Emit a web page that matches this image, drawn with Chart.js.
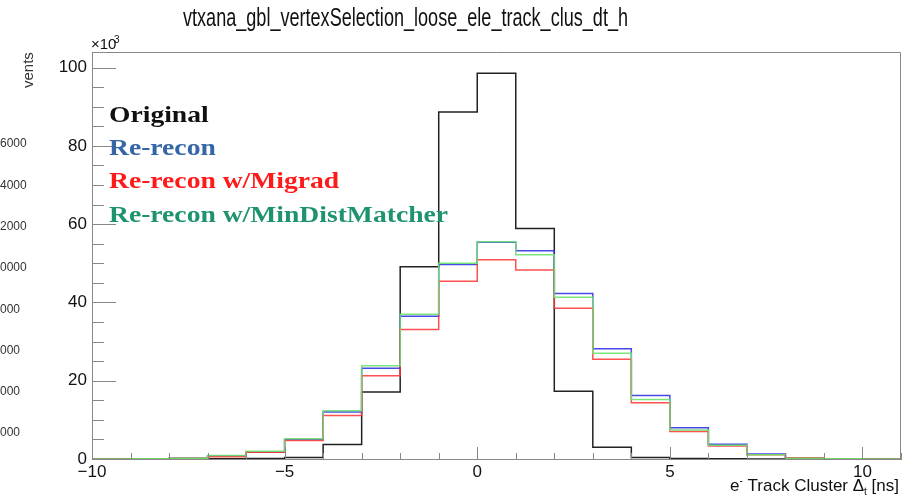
<!DOCTYPE html>
<html lang="en">
<head>
    <meta charset="UTF-8">
    <title>vtxana_gbl_vertexSelection_loose_ele_track_clus_dt_h</title>
    <style>
        body { margin: 0; background: #fff; }
        #histChart { display: block; }
    </style>
</head>
<body>
    <canvas id="histChart" width="909" height="497"></canvas>

    <script src="https://cdn.jsdelivr.net/npm/chart.js"></script>
    <script>
        // bin edges in ns, 1 ns wide bins
        const binEdges = [-10, -9, -8, -7, -6, -5, -4, -3, -2, -1, 0, 1, 2, 3, 4, 5, 6, 7, 8, 9, 10, 11];

        // bin contents, in units of 10^3 events
        const original = [0, 0, 0.05, 0.05, 0.12, 0.4, 3.7, 17.1, 49.1, 88.7, 98.6, 58.9, 17.3, 3.0, 0.4, 0.12, 0.05, 0, 0, 0, 0];
        const rerecon  = [0, 0.05, 0.2, 0.8, 1.8, 5.0, 12.0, 23.2, 36.5, 49.7, 55.4, 53.2, 42.3, 28.2, 16.2, 8.0, 3.8, 1.3, 0.25, 0.05, 0];
        const migrad   = [0, 0.05, 0.2, 0.6, 1.7, 4.7, 11.1, 21.3, 33.1, 45.4, 50.9, 48.3, 38.5, 25.5, 14.4, 7.0, 3.3, 1.1, 0.3, 0.05, 0];
        const minDist  = [0, 0.08, 0.2, 0.9, 2.0, 5.2, 12.3, 23.8, 37.0, 50.0, 55.5, 52.2, 41.3, 27.0, 15.2, 7.4, 3.5, 1.1, 0.2, 0.05, 0];

        const xTickLabels = [-10, -5, 0, 5, 10];
        const yTickLabels = [0, 20, 40, 60, 80, 100];

        const legendNames = ['Original', 'Re-recon', 'Re-recon w/Migrad', 'Re-recon w/MinDistMatcher'];
        const legendColors = ['#111111', '#3466a8', '#ff1a1a', '#1e9370'];

        // each point sits on a bin's low edge; the last edge repeats the last bin
        function toSteps(vals) {
            return binEdges.map((x, i) => ({ x: x, y: vals[Math.min(i, vals.length - 1)] }));
        }

        function histSet(label, vals, color, order) {
            return {
                label: label,
                data: toSteps(vals),
                borderColor: color,
                borderWidth: 1.5,
                stepped: 'before',
                pointRadius: 0,
                fill: false,
                order: order
            };
        }

        // draw text squeezed or stretched to a given width
        function fitText(ctx, text, x, y, width) {
            const w = ctx.measureText(text).width;
            ctx.save();
            ctx.translate(x, y);
            ctx.scale(width / w, 1);
            ctx.fillText(text, 0, 0);
            ctx.restore();
        }

        // ROOT style: ticks pointing into the frame, frame box, title and texts
        const rootDecor = {
            id: 'rootDecor',
            afterDraw(chart) {
                const ctx = chart.ctx;
                const area = chart.chartArea;
                const xs = chart.scales.x;
                const ys = chart.scales.y;
                ctx.save();

                // frame
                ctx.strokeStyle = '#888';
                ctx.lineWidth = 1;
                ctx.beginPath();
                ctx.moveTo(area.left, area.top + 0.5);
                ctx.lineTo(area.right - 0.5, area.top + 0.5);
                ctx.lineTo(area.right - 0.5, area.bottom);
                ctx.stroke();

                // inner ticks
                ctx.beginPath();
                for (let v = -10; v <= 11; v++) {
                    const px = Math.round(xs.getPixelForValue(v)) + 0.5;
                    const len = v % 5 === 0 ? 12 : 6;
                    ctx.moveTo(px, area.bottom);
                    ctx.lineTo(px, area.bottom - len);
                }
                for (let v = 0; v <= 100; v += 5) {
                    const py = Math.round(ys.getPixelForValue(v)) + 0.5;
                    const len = v % 20 === 0 ? 24 : 12;
                    ctx.moveTo(area.left, py);
                    ctx.lineTo(area.left + len, py);
                }
                ctx.stroke();

                // title
                ctx.fillStyle = '#111';
                ctx.textAlign = 'left';
                ctx.textBaseline = 'alphabetic';
                ctx.font = '25px "Liberation Sans", Arial, sans-serif';
                fitText(ctx, 'vtxana_gbl_vertexSelection_loose_ele_track_clus_dt_h', 183, 26, 445);

                // exponent above the y axis
                ctx.font = '15px "Liberation Sans", Arial, sans-serif';
                ctx.fillText('\u00d710', area.left - 1, 49);
                ctx.font = '10px "Liberation Sans", Arial, sans-serif';
                ctx.fillText('3', area.left + 22, 43);

                // x axis title, right aligned: e- Track Cluster Δt [ns]
                const big = '17px "Liberation Sans", Arial, sans-serif';
                const small = '10px "Liberation Sans", Arial, sans-serif';
                const parts = [
                    ['e', big, 0], ['-', small, -7], [' Track Cluster \u0394', big, 0],
                    ['t', small, 4], [' [ns]', big, 0]
                ];
                let total = 0;
                parts.forEach(p => { ctx.font = p[1]; total += ctx.measureText(p[0]).width; });
                let cx = 899 - total;
                parts.forEach(p => {
                    ctx.font = p[1];
                    ctx.fillText(p[0], cx, 491 + p[2]);
                    cx += ctx.measureText(p[0]).width;
                });

                // legend text
                ctx.font = 'bold 24px "Liberation Serif", "DejaVu Serif", serif';
                legendNames.forEach((name, i) => {
                    ctx.fillStyle = legendColors[i];
                    const w = ctx.measureText(name).width;
                    fitText(ctx, name, 109, 122 + i * 33.2, w * 1.15);
                });

                // pieces of the neighbouring pad on the left
                ctx.fillStyle = '#333';
                ctx.font = '12px "Liberation Sans", Arial, sans-serif';
                ctx.textBaseline = 'middle';
                const stray = ['6000', '4000', '2000', '0000', '000', '000', '000', '000'];
                stray.forEach((s, i) => ctx.fillText(s, 0, 144 + i * 41.3));
                ctx.textBaseline = 'alphabetic';
                ctx.font = '15px "Liberation Sans", Arial, sans-serif';
                ctx.translate(33, 88);
                ctx.rotate(-Math.PI / 2);
                ctx.fillText('vents', 0, 0);

                ctx.restore();
            }
        };

        const ctx = document.getElementById('histChart').getContext('2d');
        const chart = new Chart(ctx, {
            type: 'line',
            data: {
                datasets: [
                    histSet('Original', original, '#222222', 4),
                    histSet('Re-recon', rerecon, 'rgba(40, 40, 230, 0.85)', 3),
                    histSet('Re-recon w/Migrad', migrad, 'rgba(255, 50, 50, 0.85)', 2),
                    histSet('Re-recon w/MinDistMatcher', minDist, 'rgba(110, 225, 110, 0.9)', 1)
                ]
            },
            options: {
                responsive: false,
                animation: false,
                layout: { padding: { left: 0, top: 52, right: 8, bottom: 0 } },
                plugins: {
                    legend: { display: false },
                    tooltip: { enabled: false },
                    title: { display: false }
                },
                scales: {
                    x: {
                        type: 'linear',
                        min: -10,
                        max: 11,
                        afterBuildTicks: s => { s.ticks = xTickLabels.map(v => ({ value: v })); },
                        afterFit: s => { s.height = 38; },
                        grid: { display: false, drawTicks: false },
                        border: { display: true, color: '#888' },
                        ticks: {
                            color: '#111',
                            padding: 3,
                            maxRotation: 0,
                            autoSkip: false,
                            font: { size: 17, family: '"Liberation Sans", Arial, sans-serif' },
                            callback: v => (v < 0 ? '\u2212' + Math.abs(v) : String(v))
                        }
                    },
                    y: {
                        min: 0,
                        max: 104,
                        afterBuildTicks: s => { s.ticks = yTickLabels.map(v => ({ value: v })); },
                        afterFit: s => { s.width = 92; },
                        grid: { display: false, drawTicks: false },
                        border: { display: true, color: '#888' },
                        ticks: {
                            color: '#111',
                            padding: 5,
                            font: { size: 17, family: '"Liberation Sans", Arial, sans-serif' }
                        }
                    }
                }
            },
            plugins: [rootDecor]
        });
    </script>
</body>
</html>
